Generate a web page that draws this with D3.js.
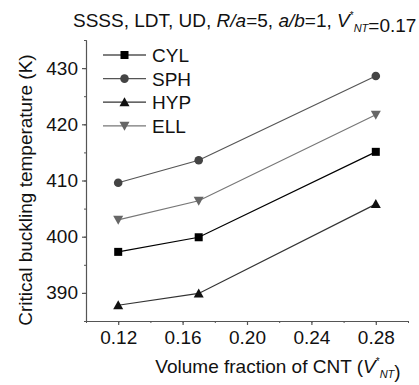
<!DOCTYPE html>
<html>
<head>
<meta charset="utf-8">
<script src="https://cdn.jsdelivr.net/npm/d3@7"></script>
<style>
  html, body { margin: 0; padding: 0; background: #fff; }
  svg { display: block; font-family: Arial, "Liberation Sans", sans-serif; }
</style>
</head>
<body>
<div id="chart"></div>
<script>
// Data
const fractions = [0.12, 0.17, 0.28];
const seriesNames = ['CYL', 'SPH', 'HYP', 'ELL'];
const cylValues = [397.3, 399.9, 415.1];
const sphValues = [409.6, 413.6, 428.6];
const hypValues = [387.8, 389.9, 405.8];
const ellValues = [403.0, 406.4, 421.7];
const xTicks = [0.12, 0.16, 0.20, 0.24, 0.28];
const yTicks = [390, 400, 410, 420, 430];

const styles = {
  CYL: { line: '#000', fill: '#000', shape: 'square' },
  SPH: { line: '#555', fill: '#444', shape: 'circle' },
  HYP: { line: '#333', fill: '#111', shape: 'triangle' },
  ELL: { line: '#777', fill: '#666', shape: 'triangleDown' }
};

const series = [
  { name: 'CYL', values: cylValues },
  { name: 'SPH', values: sphValues },
  { name: 'HYP', values: hypValues },
  { name: 'ELL', values: ellValues }
];

const W = 419, H = 385;
const margin = { left: 86, right: 11, top: 40, bottom: 64 };
const width = W - margin.left - margin.right;
const height = H - margin.top - margin.bottom;

const svg = d3.select('#chart').append('svg')
  .attr('width', W).attr('height', H);

const g = svg.append('g').attr('transform', `translate(${margin.left},${margin.top})`);

const x = d3.scaleLinear().domain([0.10, 0.30]).range([0, width]);
const y = d3.scaleLinear().domain([385, 435]).range([height, 0]);

const axisColor = '#555';
const fontSize = 19;
const fontFamily = 'Arial, "Liberation Sans", sans-serif';

// minor ticks
g.append('g').attr('transform', `translate(0,${height})`)
  .call(d3.axisBottom(x).tickValues(d3.range(0.10, 0.301, 0.02)).tickSize(2).tickFormat(''))
  .call(a => a.selectAll('line, path').attr('stroke', axisColor));
g.append('g')
  .call(d3.axisLeft(y).tickValues(d3.range(385, 436, 5)).tickSize(2).tickFormat(''))
  .call(a => a.selectAll('line, path').attr('stroke', axisColor));

// major ticks
g.append('g').attr('transform', `translate(0,${height})`)
  .call(d3.axisBottom(x).tickValues(xTicks).tickSize(4).tickSizeOuter(0).tickPadding(6).tickFormat(d3.format('.2f')))
  .call(a => a.select('.domain').attr('stroke', axisColor).attr('stroke-width', 1.2))
  .call(a => a.selectAll('line').attr('stroke', axisColor).attr('stroke-width', 1.2))
  .call(a => a.selectAll('text').attr('fill', '#111').attr('font-size', fontSize).attr('font-family', fontFamily));

g.append('g')
  .call(d3.axisLeft(y).tickValues(yTicks).tickSize(4).tickSizeOuter(0).tickPadding(4))
  .call(a => a.select('.domain').attr('stroke', axisColor).attr('stroke-width', 1.2))
  .call(a => a.selectAll('line').attr('stroke', axisColor).attr('stroke-width', 1.2))
  .call(a => a.selectAll('text').attr('fill', '#111').attr('font-size', fontSize).attr('font-family', fontFamily));

function marker(sel, shape, fill) {
  if (shape === 'square') {
    sel.append('rect').attr('x', -4).attr('y', -4).attr('width', 8).attr('height', 8).attr('fill', fill);
  } else if (shape === 'circle') {
    sel.append('circle').attr('r', 4.3).attr('fill', fill);
  } else if (shape === 'triangle') {
    sel.append('path').attr('d', 'M0,-5 L5,4 L-5,4 Z').attr('fill', fill);
  } else {
    sel.append('path').attr('d', 'M0,5 L5,-4 L-5,-4 Z').attr('fill', fill);
  }
}

const line = d3.line().x((d, i) => x(fractions[i])).y(d => y(d));

series.forEach(s => {
  const st = styles[s.name];
  g.append('path').datum(s.values)
    .attr('d', line).attr('fill', 'none')
    .attr('stroke', st.line).attr('stroke-width', 1.2);
  s.values.forEach((v, i) => {
    const m = g.append('g').attr('transform', `translate(${x(fractions[i])},${y(v)})`);
    marker(m, st.shape, st.fill);
  });
});

// legend
const legend = svg.append('g').attr('transform', 'translate(103,55)');
seriesNames.forEach((name, i) => {
  const st = styles[name];
  const row = legend.append('g').attr('transform', `translate(0,${i * 23.6})`);
  row.append('line').attr('x1', 0).attr('x2', 43).attr('y1', 0).attr('y2', 0)
    .attr('stroke', st.line).attr('stroke-width', 1.2);
  const m = row.append('g').attr('transform', 'translate(21.5,0)');
  marker(m, st.shape, st.fill);
  row.append('text').attr('x', 49).attr('y', 7).attr('font-size', fontSize).attr('fill', '#111').text(name);
});

// V*_NT symbol helper
function vnt(t) {
  t.append('tspan').attr('font-style', 'italic').text('V');
  t.append('tspan').attr('font-size', 10).attr('dy', -8).text('*');
  t.append('tspan').attr('font-style', 'italic').attr('font-size', 11).attr('dy', 13).text('NT');
  t.append('tspan').attr('dy', -5).text('');
}

// title
const title = svg.append('text').attr('x', 73).attr('y', 27).attr('font-size', fontSize).attr('fill', '#111');
title.append('tspan').text('SSSS, LDT, UD, ');
title.append('tspan').attr('font-style', 'italic').text('R/a');
title.append('tspan').text('=5, ');
title.append('tspan').attr('font-style', 'italic').text('a/b');
title.append('tspan').text('=1, ');
vnt(title);
title.append('tspan').text('=0.17');

// axis titles
const xl = svg.append('text').attr('x', 278).attr('y', 373).attr('text-anchor', 'middle')
  .attr('font-size', fontSize).attr('fill', '#111');
xl.append('tspan').text('Volume fraction of CNT (');
vnt(xl);
xl.append('tspan').text(')');

svg.append('text')
  .attr('transform', 'translate(32,190) rotate(-90)')
  .attr('text-anchor', 'middle')
  .attr('font-size', fontSize).attr('fill', '#111')
  .text('Critical buckling temperature (K)');
</script>
</body>
</html>
